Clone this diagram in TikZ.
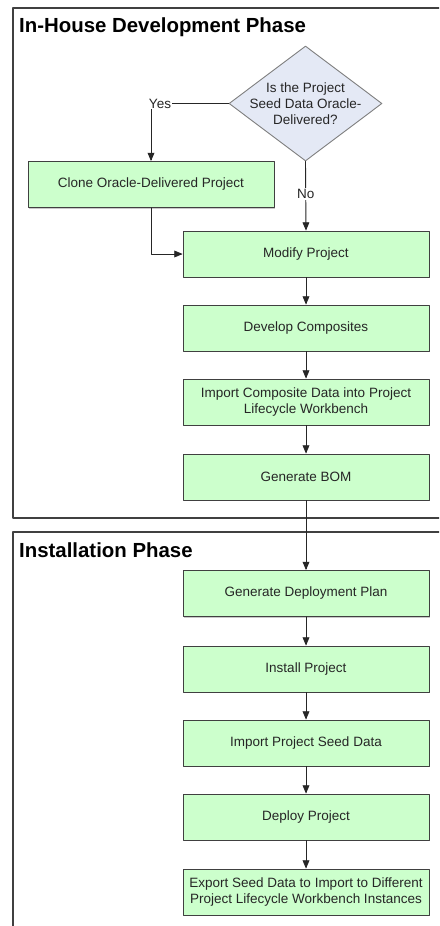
\documentclass[tikz,border=0pt]{standalone}
\usepackage{fontspec}
\setmainfont{Liberation Sans}
\usetikzlibrary{arrows}
\usetikzlibrary{shapes.geometric}
\usetikzlibrary{shadows}
\definecolor{boxgreen}{HTML}{CCFFCC}
\definecolor{diafill}{HTML}{E4E9F5}
\definecolor{framegray}{HTML}{404040}
\tikzset{
  stepbox/.style={draw=black!75, line width=0.9pt, fill=boxgreen,
    drop shadow={shadow xshift=1pt, shadow yshift=-1pt, fill=black!35, opacity=0.6},
    minimum width=246pt, minimum height=46pt, inner sep=0pt, align=center,
    font=\fontsize{13.5}{16}\selectfont, text=black!85},
  decision/.style={shape=diamond, draw=black!50, line width=0.9pt, fill=diafill,
    minimum width=153pt, minimum height=115pt, aspect=1.33, inner sep=-5pt, align=center,
    font=\fontsize{13.5}{16}\selectfont, text=black!85},
  phase/.style={anchor=base west, inner sep=0pt, font=\fontsize{20.4}{24}\selectfont\bfseries},
  lbl/.style={fill=white, inner sep=1pt, font=\fontsize{13.5}{16}\selectfont, text=black!85},
  frame/.style={draw=framegray, line width=1.4pt, line cap=butt}
}
\begin{document}
\begin{tikzpicture}[line cap=round,line join=round,>=triangle 45,x=1pt,y=-1pt]
\clip (0,0) rectangle (439,926);
\fill[white] (0,0) rectangle (439,926);
% phase frames
\draw[frame] (450,8) -- (13,8) -- (13,518) -- (450,518);
\draw[frame] (450,532) -- (13,532) -- (13,940);
\node[phase] (devtitle) at (19,32) {In-House Development Phase};
\node[phase] (insttitle) at (19,557) {Installation Phase};

\node[decision] (seed) at (305.5,103.5) {Is the Project\\Seed Data Oracle-\\Delivered?};
\node[stepbox] (clone) at (151,184.5) {Clone Oracle-Delivered Project};
\node[stepbox] (modify) at (306,254) {Modify Project};
\node[stepbox] (develop) at (306,328) {Develop Composites};
\node[stepbox] (importcomp) at (306,402) {Import Composite Data into Project\\Lifecycle Workbench};
\node[stepbox] (bom) at (306,477) {Generate BOM};
\node[stepbox] (deplan) at (306,593.5) {Generate Deployment Plan};
\node[stepbox] (install) at (306,669) {Install Project};
\node[stepbox] (importseed) at (306,743) {Import Project Seed Data};
\node[stepbox] (deploy) at (306,817) {Deploy Project};
\node[stepbox] (export) at (306,892) {Export Seed Data to Import to Different\\Project Lifecycle Workbench Instances};

\draw[->, line width=0.9pt, black!85] (seed.west) -| (clone.north) node[lbl, pos=0.5, xshift=9pt] (yes) {Yes};
\draw[->, line width=0.9pt, black!85] (seed.south) -- (modify.north) node[lbl, pos=0.47] (no) {No};
\draw[->, line width=0.9pt, black!85] (clone.south) |- (modify.west);
\draw[->, line width=0.9pt, black!85] (modify) -- (develop);
\draw[->, line width=0.9pt, black!85] (develop) -- (importcomp);
\draw[->, line width=0.9pt, black!85] (importcomp) -- (bom);
\draw[->, line width=0.9pt, black!85] (bom) -- (deplan);
\draw[->, line width=0.9pt, black!85] (deplan) -- (install);
\draw[->, line width=0.9pt, black!85] (install) -- (importseed);
\draw[->, line width=0.9pt, black!85] (importseed) -- (deploy);
\draw[->, line width=0.9pt, black!85] (deploy) -- (export);
\end{tikzpicture}
\end{document}
